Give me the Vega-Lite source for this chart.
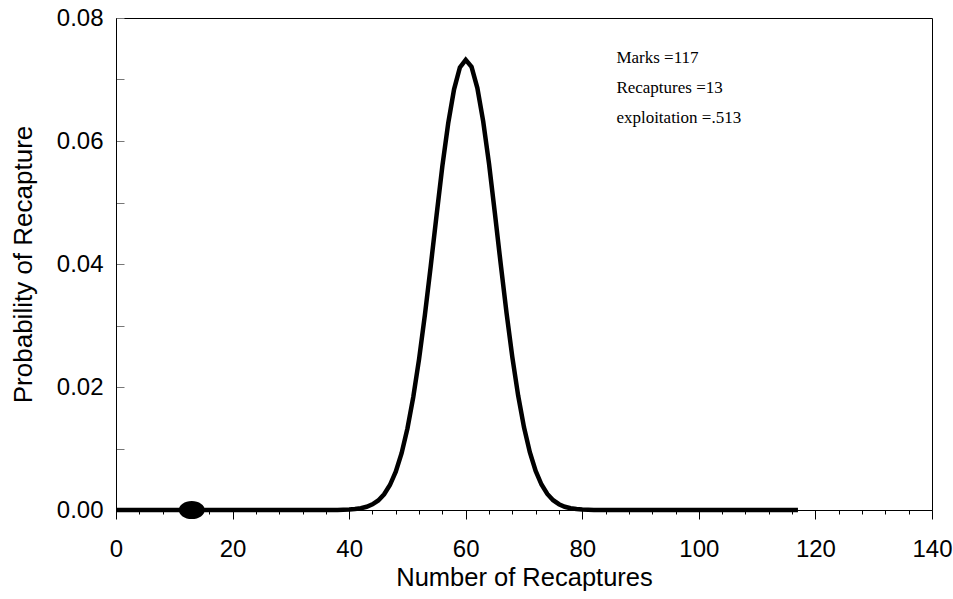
{
  "$schema": "https://vega.github.io/schema/vega-lite/v6.json",
  "width": 816,
  "height": 492,
  "autosize": {"type": "none"},
  "padding": {"left": 116, "top": 18, "right": 21, "bottom": 89},
  "background": "white",
  "config": {
    "view": {"stroke": "black", "strokeWidth": 1},
    "axis": {
      "labelFont": "Liberation Sans",
      "titleFont": "Liberation Sans",
      "labelColor": "black",
      "titleColor": "black",
      "titleFontWeight": "normal",
      "domainColor": "black",
      "grid": false
    }
  },
  "datasets": {
    "pmf": [
      {"k":0,"p":0},{"k":1,"p":0},{"k":2,"p":0},{"k":3,"p":0},{"k":4,"p":0},{"k":5,"p":0},{"k":6,"p":0},{"k":7,"p":0},{"k":8,"p":0},{"k":9,"p":0},
      {"k":10,"p":0},{"k":11,"p":0},{"k":12,"p":0},{"k":13,"p":0},{"k":14,"p":0},{"k":15,"p":0},{"k":16,"p":0},{"k":17,"p":0},{"k":18,"p":0},{"k":19,"p":0},
      {"k":20,"p":0},{"k":21,"p":0},{"k":22,"p":0},{"k":23,"p":0},{"k":24,"p":0},{"k":25,"p":0},{"k":26,"p":0},{"k":27,"p":0},{"k":28,"p":0},{"k":29,"p":0},
      {"k":30,"p":0},{"k":31,"p":0},{"k":32,"p":0},{"k":33,"p":0},{"k":34,"p":0},{"k":35,"p":0},{"k":36,"p":0},{"k":37,"p":0},{"k":38,"p":0},{"k":39,"p":0.00004},
      {"k":40,"p":0.00008},{"k":41,"p":0.00015},{"k":42,"p":0.00029},{"k":43,"p":0.00052},{"k":44,"p":0.00092},{"k":45,"p":0.00155},{"k":46,"p":0.00256},{"k":47,"p":0.00406},{"k":48,"p":0.00623},{"k":49,"p":0.00924},
      {"k":50,"p":0.01325},{"k":51,"p":0.01834},{"k":52,"p":0.02455},{"k":53,"p":0.03175},{"k":54,"p":0.03969},{"k":55,"p":0.04794},{"k":56,"p":0.05596},{"k":57,"p":0.06290},{"k":58,"p":0.06840},{"k":59,"p":0.07195},
      {"k":60,"p":0.0732},{"k":61,"p":0.07205},{"k":62,"p":0.0686},{"k":63,"p":0.0632},{"k":64,"p":0.05629},{"k":65,"p":0.04829},{"k":66,"p":0.04003},{"k":67,"p":0.03207},{"k":68,"p":0.02484},{"k":69,"p":0.01858},
      {"k":70,"p":0.01344},{"k":71,"p":0.00939},{"k":72,"p":0.00634},{"k":73,"p":0.00414},{"k":74,"p":0.00261},{"k":75,"p":0.00159},{"k":76,"p":0.00094},{"k":77,"p":0.00053},{"k":78,"p":0.00029},{"k":79,"p":0.00016},
      {"k":80,"p":0.00008},{"k":81,"p":0.00004},{"k":82,"p":0.00002},{"k":83,"p":0},{"k":84,"p":0},{"k":85,"p":0},{"k":86,"p":0},{"k":87,"p":0},{"k":88,"p":0},{"k":89,"p":0},
      {"k":90,"p":0},{"k":91,"p":0},{"k":92,"p":0},{"k":93,"p":0},{"k":94,"p":0},{"k":95,"p":0},{"k":96,"p":0},{"k":97,"p":0},{"k":98,"p":0},{"k":99,"p":0},
      {"k":100,"p":0},{"k":101,"p":0},{"k":102,"p":0},{"k":103,"p":0},{"k":104,"p":0},{"k":105,"p":0},{"k":106,"p":0},{"k":107,"p":0},{"k":108,"p":0},{"k":109,"p":0},
      {"k":110,"p":0},{"k":111,"p":0},{"k":112,"p":0},{"k":113,"p":0},{"k":114,"p":0},{"k":115,"p":0},{"k":116,"p":0},{"k":117,"p":0}
    ],
    "obs": [{"k": 13, "p": 0}]
  },
  "layer": [
    {
      "data": {"name": "pmf"},
      "mark": {"type": "line", "color": "black", "strokeWidth": 4.5, "strokeJoin": "miter", "clip": false},
      "encoding": {
        "x": {
          "field": "k", "type": "quantitative",
          "scale": {"domain": [0, 140], "nice": false, "zero": false},
          "axis": {
            "values": [0,4,8,12,16,20,24,28,32,36,40,44,48,52,56,60,64,68,72,76,80,84,88,92,96,100,104,108,112,116,120,124,128,132,136,140],
            "tickCount": 60,
            "format": "d",
            "labelExpr": "datum.value % 20 === 0 ? datum.label : ''",
            "tickSize": {"condition": {"test": "datum.value % 20 === 0", "value": 9}, "value": 4},
            "tickColor": "black",
            "labelFontSize": 24,
            "labelPadding": 18,
            "labelFlush": false,
            "labelOverlap": false,
            "title": "Number of Recaptures",
            "titleFontSize": 25.5,
            "titlePadding": 4
          }
        },
        "y": {
          "field": "p", "type": "quantitative",
          "scale": {"domain": [0, 0.08], "nice": false},
          "axis": {
            "values": [0,0.01,0.02,0.03,0.04,0.05,0.06,0.07,0.08],
            "tickCount": 20,
            "format": ".2f",
            "labelExpr": "round(datum.value * 100) % 2 === 0 ? datum.label : ''",
            "tickSize": -8,
            "tickColor": "#777777",
            "labelFontSize": 24,
            "labelPadding": 21,
            "labelFlush": false,
            "labelOverlap": false,
            "title": "Probability of Recapture",
            "titleFontSize": 26,
            "titlePadding": 20
          }
        }
      }
    },
    {
      "data": {"name": "obs"},
      "mark": {"type": "point", "shape": "M-1,0A1,0.7 0 1,0 1,0A1,0.7 0 1,0 -1,0Z", "filled": true, "color": "black", "size": 676, "opacity": 1},
      "encoding": {
        "x": {"field": "k", "type": "quantitative"},
        "y": {"field": "p", "type": "quantitative"}
      }
    },
    {
      "data": {"values": [{}]},
      "mark": {"type": "text", "font": "Liberation Serif", "fontSize": 17, "align": "left", "baseline": "alphabetic", "lineHeight": 30, "color": "black"},
      "encoding": {
        "x": {"datum": 85.85},
        "y": {"datum": 0.07268},
        "text": {"value": ["Marks =117", "Recaptures =13", "exploitation =.513"]}
      }
    }
  ]
}
